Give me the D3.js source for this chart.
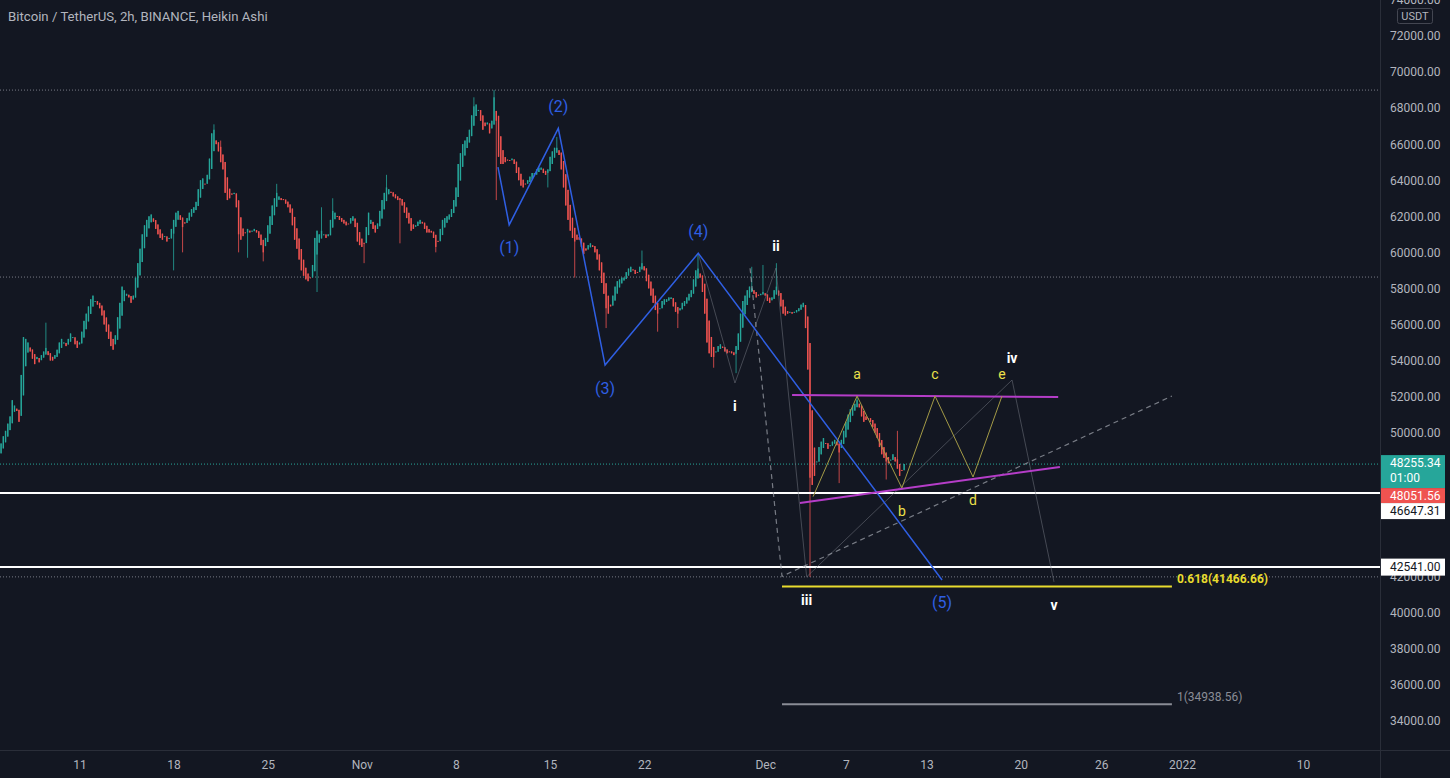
<!DOCTYPE html>
<html><head><meta charset="utf-8">
<script src="https://cdn.jsdelivr.net/npm/d3@7"></script>
<style>
html,body{margin:0;padding:0;background:#131722;overflow:hidden}
svg{display:block}
text{font-family:Roboto,"Noto Sans",sans-serif}
</style></head><body>
<svg id="chart" width="1450" height="778"></svg>
<script>
// ---------------- DATA ----------------
const title = "Bitcoin / TetherUS, 2h, BINANCE, Heikin Ashi";
const firstBarTime = "2021-10-05T00:00:00Z";   // bars read every 4 hours
const barHours = 4;
const haOpen0K = 48.7;
// Heikin Ashi closes, in thousands USDT (6 per day)
const haCloseK = [
49.0,49.4,49.8,50.1,50.5,50.9, 51.8,51.5,51.2,50.6,53.2,55.3, 55.2,55.0,54.5,54.1,53.8,54.2,
53.9,54.3,54.5,54.7,54.3,54.0, 54.0,54.3,54.6,55.0,55.2,55.0, 54.8,55.2,55.5,55.3,54.9,54.7,
55.0,55.6,56.2,56.6,57.0,57.4, 57.6,57.3,57.1,56.9,56.5,56.0, 55.6,55.2,54.8,54.6,55.4,56.4,
57.2,58.1,57.9,57.7,57.5,57.2, 57.6,58.6,59.4,60.2,61.0,61.5, 61.8,62.0,62.1,61.7,61.3,61.0,
60.8,60.7,60.9,60.6,60.8,61.3, 61.8,62.2,62.3,61.8,61.4,61.6, 61.9,62.2,62.4,62.5,62.8,63.5,
64.0,64.1,63.8,64.3,65.2,66.6, 66.8,66.0,65.6,65.0,64.6,63.3, 62.9,63.0,63.2,63.3,62.5,61.0,
60.7,60.9,61.1,61.3,61.1,61.2, 61.3,61.1,60.8,60.4,60.0,60.8, 61.5,62.0,62.6,63.0,63.3,63.1,
62.9,62.9,62.7,62.5,62.2,61.5, 60.7,60.2,59.6,59.0,58.7,58.5, 58.4,58.6,59.3,60.8,61.2,61.0,
61.2,61.0,60.8,61.0,61.8,62.3, 62.2,62.0,61.8,61.7,61.6,61.5, 61.6,61.9,62.0,61.4,60.6,60.4,
60.3,60.5,61.4,62.2,61.8,61.3, 61.1,61.6,62.3,62.9,63.3,63.6, 63.5,63.3,63.1,63.0,62.9,62.9,
62.6,62.2,61.9,61.6,61.2,61.3, 61.5,61.7,61.8,61.6,61.3,61.1, 61.1,61.1,60.8,60.3,60.6,61.3,
61.8,61.9,62.0,62.1,62.4,62.9, 63.6,64.9,65.5,66.0,66.2,66.4, 66.8,67.6,68.1,68.2,67.9,67.3,
66.8,67.0,67.2,66.6,67.3,68.6, 67.3,65.3,64.9,64.9,65.0,65.1, 65.1,65.2,64.9,64.4,64.0,63.7,
63.6,63.8,64.0,64.2,64.4,64.4, 64.6,64.7,64.7,64.4,64.3,64.6, 65.3,65.6,65.8,65.8,65.4,64.6,
63.6,62.6,61.8,61.2,60.8,60.6, 60.7,60.7,60.3,59.9,60.1,60.4, 60.5,60.3,60.0,59.6,59.0,58.3,
57.7,56.9,56.6,57.0,57.6,58.1, 58.4,58.5,58.6,58.6,58.9,59.1, 59.2,59.0,58.8,58.9,59.2,59.4,
59.0,58.4,58.0,57.6,57.2,56.8, 56.6,56.9,57.3,57.4,57.4,57.5, 57.5,57.0,56.7,56.6,56.9,57.2,
57.3,57.5,57.7,57.9,58.5,59.0, 59.1,58.6,57.8,56.6,55.0,54.4, 54.2,54.2,54.5,54.8,54.9,54.7,
54.5,54.4,54.5,54.4,54.3,54.8, 55.5,56.6,57.3,57.6,57.9,58.1, 58.0,57.7,57.5,57.6,57.7,57.8,
57.6,57.3,57.2,57.5,57.9,58.1, 57.6,57.0,56.6,56.5,56.6,56.7, 56.6,56.7,56.8,56.9,57.1,57.2,
55.8,53.5,47.5,47.1,47.6,48.4, 49.2,49.5,49.7,49.4,49.1,49.3, 49.5,49.6,49.3,48.9,49.6,50.1,
50.6,51.0,51.3,51.5,51.6,51.8, 51.4,50.9,50.6,50.7,50.8,50.6, 50.3,50.0,49.7,49.2,48.8,48.6,
48.4,48.3,48.5,48.8,48.4,48.0, 47.6,47.9,48.26
];
// notable wicks: [bar index, high K, low K]
const wickSpikes = [
[21,56.1,null],[78,null,59.0],[82,null,60.0],[96,67.1,null],[99,66.2,null],[107,null,60.0],
[111,null,59.7],[118,null,59.5],[124,63.8,null],[142,null,57.8],[144,62.5,null],[149,63.0,null],
[163,null,59.4],[173,64.3,null],[179,null,60.5],[195,null,60.0],[212,68.6,null],[221,69.0,null],
[222,null,62.9],[245,null,63.6],[249,66.4,null],[257,null,58.6],[271,null,55.8],[287,60.1,null],
[294,null,55.6],[303,null,55.8],[312,59.9,null],[319,null,53.6],[329,null,53.3],[336,59.2,null],
[341,59.3,null],[347,59.4,null],[362,null,42.0],[375,null,47.2],[383,52.0,null],[396,null,47.4],
[401,50.1,null]
];
const lastPrice = 48255.34;
const countdown = "01:00";
const haLastPrice = 48051.56;
const hLevels = [46647.31, 42541.00];          // solid white horizontal lines
const dottedLevels = [69000, 58630, 42000];    // grey dotted horizontal lines

const priceTicks = [74000,72000,70000,68000,66000,64000,62000,60000,58000,56000,54000,52000,50000,42000,40000,38000,36000,34000];
const timeTickDates = ["2021-10-11","2021-10-18","2021-10-25","2021-11-01","2021-11-08","2021-11-15","2021-11-22","2021-12-01","2021-12-07","2021-12-13","2021-12-20","2021-12-26","2022-01-01","2022-01-10"];
const timeTickLabels = ["11","18","25","Nov","8","15","22","Dec","7","13","20","26","2022","10"];

// Elliott waves: [time, price]
const majorWave = [["2021-11-11T03:00Z",64730],["2021-11-11T23:00Z",61520],["2021-11-15T14:40Z",66880],["2021-11-19T02:10Z",53750],["2021-11-26T00:30Z",59950],["2021-12-14T03:40Z",41830]];
const majorLabels = ["","(1)","(2)","(3)","(4)","(5)"];
const minorWave = [["2021-11-26T00:30Z",59950],["2021-11-28T18:00Z",52750],["2021-12-01T19:15Z",59130],["2021-12-04T02:00Z",42000],["2021-12-19T08:40Z",52920],["2021-12-22T11:30Z",41720]];
const minorLabels = ["","i","ii","iii","iv","v"];
const triWave = [["2021-12-04T13:30Z",46450],["2021-12-07T20:00Z",52030],["2021-12-11T04:00Z",46930],["2021-12-13T15:10Z",52030],["2021-12-16T11:00Z",47540],["2021-12-18T14:40Z",52030]];
const triLabels = ["","a","b","c","d","e"];
const purpleUpper = [["2021-12-03T00:00Z",52090],["2021-12-22T19:00Z",51980]];
const purpleLower = [["2021-12-03T14:00Z",46100],["2021-12-22T22:00Z",48095]];
const fibPoints = [["2021-11-29T21:00Z",59117.86],["2021-12-02T06:00Z",42028.56],["2021-12-31T06:00Z",52027.86]];
const fibRatios = ["0.618","1"];
const fibPrices = [41466.66, 34938.56];

// ---------------- CHART ----------------
const svg = d3.select("#chart");
const W = 1450, H = 778, plotR = 1380, plotB = 750;
const BG = "#131722", TXT = "#b2b5be", UP = "#26a69a", DN = "#ef5350";
svg.append("rect").attr("width", W).attr("height", H).attr("fill", BG);

const x = d3.scaleUtc()
  .domain([new Date("2021-10-11T00:00:00Z"), new Date("2022-01-10T00:00:00Z")])
  .range([79.5, 1303]);
const y = d3.scaleLinear().domain([34000, 72000]).range([721.1, 36]);
const P = d => [x(new Date(d[0])), y(d[1])];

svg.append("defs").append("clipPath").attr("id", "plot")
  .append("rect").attr("width", plotR).attr("height", plotB);
const g = svg.append("g").attr("clip-path", "url(#plot)");

// dotted horizontal levels
g.selectAll(".dl").data(dottedLevels).join("line")
  .attr("x1", 0).attr("x2", plotR).attr("y1", d => y(d)).attr("y2", d => y(d))
  .attr("stroke", "#787b86").attr("stroke-width", 1).attr("stroke-dasharray", "1,2");
g.append("line").attr("x1", 0).attr("x2", plotR).attr("y1", y(lastPrice)).attr("y2", y(lastPrice))
  .attr("stroke", UP).attr("stroke-width", 1).attr("stroke-dasharray", "1,2");

// Heikin Ashi bars
const t0 = new Date(firstBarTime).getTime();
const bars = [];
let o = haOpen0K * 1000;
haCloseK.forEach((ck, i) => {
  const c = ck * 1000;
  bars.push({ t: new Date(t0 + i * barHours * 3600e3), o, c, h: Math.max(o, c), l: Math.min(o, c) });
  o = (o + c) / 2;
});
wickSpikes.forEach(([i, hi, lo]) => {
  if (hi != null) bars[i].h = Math.max(bars[i].h, hi * 1000);
  if (lo != null) bars[i].l = Math.min(bars[i].l, lo * 1000);
});
const bw = 1.4;
const cg = g.append("g");
cg.selectAll("line").data(bars).join("line")
  .attr("x1", d => x(d.t)).attr("x2", d => x(d.t))
  .attr("y1", d => y(d.h)).attr("y2", d => y(d.l))
  .attr("stroke", d => d.c >= d.o ? UP : DN).attr("stroke-width", 0.8);
cg.selectAll("rect").data(bars).join("rect")
  .attr("x", d => x(d.t) - bw / 2).attr("width", bw)
  .attr("y", d => y(Math.max(d.o, d.c)))
  .attr("height", d => Math.max(1, Math.abs(y(d.o) - y(d.c))))
  .attr("fill", d => d.c >= d.o ? UP : DN);

// white horizontal lines
g.selectAll(".hl").data(hLevels).join("line")
  .attr("x1", 0).attr("x2", plotR).attr("y1", d => y(d)).attr("y2", d => y(d))
  .attr("stroke", "#ffffff").attr("stroke-width", 2);

const line = d3.line().x(d => P(d)[0]).y(d => P(d)[1]);

// minor wave faint lines
g.append("path").attr("d", line(minorWave)).attr("fill", "none")
  .attr("stroke", "#787b86").attr("stroke-opacity", 0.5).attr("stroke-width", 1);

// fib dashed trend lines
g.append("path").attr("d", line(fibPoints)).attr("fill", "none")
  .attr("stroke", "#a3a6af").attr("stroke-opacity", 0.7).attr("stroke-width", 1.2).attr("stroke-dasharray", "5,4");

// fib levels
const fibX1 = x(new Date(fibPoints[1][0])), fibX2 = x(new Date(fibPoints[2][0]));
const fibColors = ["#e9dc2e", "#8a8d96"];
fibPrices.forEach((p, i) => {
  g.append("line").attr("x1", fibX1).attr("x2", fibX2).attr("y1", y(p)).attr("y2", y(p))
    .attr("stroke", fibColors[i]).attr("stroke-width", 2);
  g.append("text").attr("x", fibX2 + 5).attr("y", y(p) - 3)
    .attr("fill", fibColors[i]).attr("font-size", 12).attr("font-weight", i === 0 ? "bold" : "normal")
    .text(`${fibRatios[i]}(${p.toFixed(2)})`);
});

// major wave (blue)
const BLUE = "#2f5fe3";
g.append("path").attr("d", line(majorWave)).attr("fill", "none")
  .attr("stroke", BLUE).attr("stroke-width", 1.5);

// purple trendlines
[purpleUpper, purpleLower].forEach(pl => {
  g.append("path").attr("d", line(pl)).attr("fill", "none")
    .attr("stroke", "#b53dc8").attr("stroke-width", 2);
});

// triangle a-e (thin olive)
g.append("path").attr("d", line(triWave)).attr("fill", "none")
  .attr("stroke", "#a39a46").attr("stroke-width", 1);

// wave labels
function waveLabels(pts, labels, firstIsHigh, color, size, weight) {
  pts.forEach((d, i) => {
    if (!labels[i]) return;
    const [px, py] = P(d);
    const high = (i % 2 === 0) === firstIsHigh;
    g.append("text").attr("x", px).attr("y", high ? py - 22 : py + 23)
      .attr("text-anchor", "middle").attr("dominant-baseline", "central")
      .attr("fill", color).attr("font-size", size).attr("font-weight", weight)
      .text(labels[i]);
  });
}
waveLabels(majorWave, majorLabels, true, BLUE, 16, "normal");
waveLabels(minorWave, minorLabels, true, "#ffffff", 14, "bold");
waveLabels(triWave, triLabels, false, "#ece04a", 14, "normal");

// title
svg.append("text").attr("x", 8).attr("y", 21).attr("fill", TXT).attr("font-size", 13.2).text(title);

// axes
svg.append("rect").attr("x", plotR).attr("y", 0).attr("width", W - plotR).attr("height", H).attr("fill", BG);
svg.append("rect").attr("x", 0).attr("y", plotB).attr("width", W).attr("height", H - plotB).attr("fill", BG);
const ya = svg.append("g").attr("transform", `translate(${plotR},0)`)
  .call(d3.axisRight(y).tickValues(priceTicks).tickFormat(d3.format(".2f")).tickSize(0).tickPadding(10));
ya.select(".domain").remove();
ya.selectAll("text").attr("fill", TXT).attr("font-size", 12).attr("font-family", "Roboto");
const xa = svg.append("g").attr("transform", `translate(0,${plotB})`)
  .call(d3.axisBottom(x).tickValues(timeTickDates.map(d => new Date(d + "T00:00:00Z")))
    .tickFormat((d, i) => timeTickLabels[i]).tickSize(0).tickPadding(10));
xa.select(".domain").remove();
xa.selectAll("text").attr("fill", TXT).attr("font-size", 12).attr("font-family", "Roboto");
svg.append("line").attr("x1", plotR + 0.5).attr("x2", plotR + 0.5).attr("y1", 0).attr("y2", H).attr("stroke", "#2a2e39");
svg.append("line").attr("x1", 0).attr("x2", W).attr("y1", plotB + 0.5).attr("y2", plotB + 0.5).attr("stroke", "#2a2e39");

// USDT box
svg.append("rect").attr("x", 1397.5).attr("y", 8.5).attr("width", 35).attr("height", 15).attr("rx", 2)
  .attr("fill", BG).attr("stroke", "#434651");
svg.append("text").attr("x", 1415).attr("y", 16).attr("text-anchor", "middle").attr("dominant-baseline", "central")
  .attr("fill", TXT).attr("font-size", 11).text("USDT");

// price labels
function priceBox(top, h, fill, color, lines) {
  svg.append("rect").attr("x", plotR + 1).attr("y", top).attr("width", 64).attr("height", h).attr("fill", fill);
  lines.forEach((t, i) => {
    svg.append("text").attr("x", 1390).attr("y", top + 8 + i * 15).attr("dominant-baseline", "central")
      .attr("fill", color).attr("font-size", 12).text(t);
  });
}
const gTop = y(lastPrice) - 9;
priceBox(gTop, 33, UP, "#ffffff", [lastPrice.toFixed(2), countdown]);
priceBox(gTop + 33, 15, DN, "#ffffff", [haLastPrice.toFixed(2)]);
priceBox(gTop + 48, 16, "#ffffff", "#131722", [hLevels[0].toFixed(2)]);
priceBox(y(hLevels[1]) - 8.5, 17, "#ffffff", "#131722", [hLevels[1].toFixed(2)]);
</script>
</body></html>
